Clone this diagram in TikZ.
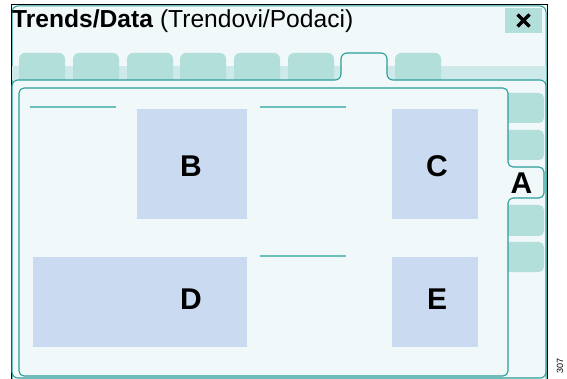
\documentclass[tikz,border=0pt]{standalone}
\usepackage{fontspec}
\setmainfont{Liberation Sans}
\definecolor{bglight}{HTML}{F0F8FA}
\definecolor{tabfill}{HTML}{B2DFDA}
\definecolor{stripfill}{HTML}{CDE9EA}
\definecolor{tealline}{HTML}{2B9E98}
\definecolor{rulecol}{HTML}{6CC0BB}
\definecolor{boxblue}{HTML}{CADAF0}
\tikzset{
  tabshape/.style={fill=tabfill, rounded corners=6pt},
  panel/.style={draw=tealline, line width=1.1pt, fill=bglight, rounded corners=6pt},
  field/.style={fill=boxblue},
  rulebar/.style={draw=rulecol, line width=2pt},
  tag/.style={font=\fontsize{30}{32}\selectfont\bfseries, inner sep=0pt},
}
\begin{document}
\begin{tikzpicture}[x=1pt,y=-1pt]
\useasboundingbox (0,0) rectangle (567,379);
% window background and frame
\fill[bglight] (11,5) rectangle (547,379);
\draw[tealline, line width=1pt, rounded corners=6pt] (12,385) -- (12,6) -- (546,6) -- (546,385);
\draw[black, line width=1pt] (11,379) -- (11,5) -- (547,5) -- (547,379);
% title
\node[anchor=base west, inner sep=0pt, font=\fontsize{24.6}{28}\selectfont] (title) at (12,27.5)
  {\textbf{Trends/Data} (Trendovi/Podaci)};
% close button
\fill[tabfill] (505,8) rectangle (542,33);
\draw[black, line width=3.4pt] (517.5,14.5) -- (529.5,26.5) (529.5,14.5) -- (517.5,26.5);
% tab strip and tabs
\fill[stripfill] (12,66) rectangle (546,80);
\foreach \x in {19,73,127,180,234,288,395}
  \path[tabshape] (\x,53) rectangle ++(46,35);
% main panel with the active tab
\path[panel] (12,378) -- (12,80) -- (341,80) -- (341,53) -- (387,53) -- (387,80)
  -- (546,80) -- (546,378) -- cycle;
% side tabs
\foreach \y/\h in {93/30,130/30,205/31,242/30}
  \path[tabshape, rounded corners=5pt] (500,\y) rectangle ++(44,\h);
% inner panel with the active side tab
\path[panel, rounded corners=5pt] (19,376) -- (19,88) -- (508,88) -- (508,167)
  -- (544,167) -- (544,198) -- (508,198) -- (508,376) -- cycle;
\node[tag] (A) at (521.5,183) {A};
% content areas
\path[field] (137,109) rectangle (247,219);
\path[field] (392,109) rectangle (478,219);
\path[field] (33,257) rectangle (247,347);
\path[field] (392,257) rectangle (478,347);
\path[rulebar] (30,107) -- (116,107);
\path[rulebar] (260,107) -- (346,107);
\path[rulebar] (260,256) -- (346,256);
\node[tag] (B) at (191,166) {B};
\node[tag] (C) at (437,166) {C};
\node[tag] (D) at (191,299) {D};
\node[tag] (E) at (437,299) {E};
% figure number
\node[rotate=90, inner sep=0pt, font=\fontsize{9}{10}\selectfont] (num) at (560,366) {307};
\end{tikzpicture}
\end{document}
